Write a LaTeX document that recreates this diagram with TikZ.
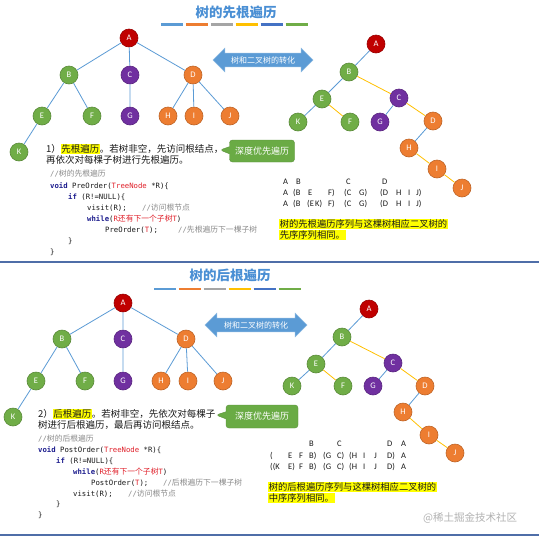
\documentclass[tikz,border=0pt]{standalone}
\usepackage{fontspec}
\setmainfont{Noto Sans CJK SC}
\setmonofont{DejaVu Sans Mono}
\newfontfamily\latf{Carlito}
\newfontfamily\cjk{Noto Sans CJK SC}
\usetikzlibrary{shapes.arrows,shapes.callouts}
\definecolor{tblue}{HTML}{4A8FD4}
\definecolor{barA}{HTML}{5B9BD5}
\definecolor{barB}{HTML}{ED7D31}
\definecolor{barC}{HTML}{A5A5A5}
\definecolor{barD}{HTML}{FFC000}
\definecolor{barE}{HTML}{4472C4}
\definecolor{barF}{HTML}{70AD47}
\definecolor{nred}{HTML}{C00000}
\definecolor{ngreen}{HTML}{70AD47}
\definecolor{npurple}{HTML}{7030A0}
\definecolor{norange}{HTML}{ED7D31}
\definecolor{eblue}{HTML}{5B9BD5}
\definecolor{eyel}{HTML}{FFC000}
\definecolor{sepc}{HTML}{4F6EA8}
\definecolor{gbox}{HTML}{6AAB45}
\definecolor{kwc}{HTML}{1F1F8F}
\definecolor{cred}{HTML}{E0202A}
\definecolor{cmt}{HTML}{8A8A8A}
\definecolor{txt}{HTML}{1A1A1A}
\definecolor{hl}{HTML}{FFFF00}
\setlength\fboxsep{0.4pt}
\newcommand\hlt[1]{\colorbox{hl}{#1}}
\newcommand\kw[1]{\textcolor{kwc}{\textbf{#1}}}
\newcommand\zh[1]{{\cjk\fontsize{7.8}{8}\selectfont #1}}
\tikzset{
  tn/.style={circle, minimum size=18pt, inner sep=0pt, text=white, font=\latf\fontsize{8.5}{9}\selectfont, line width=0.6pt},
  nR/.style={tn, fill=nred, draw=nred!80!black},
  nG/.style={tn, fill=ngreen, draw=ngreen!80!black},
  nP/.style={tn, fill=npurple, draw=npurple!80!black},
  nO/.style={tn, fill=norange, draw=norange!80!black},
  be/.style={draw=eblue, line width=0.8pt},
  ye/.style={draw=eyel, line width=0.8pt},
  ttl/.style={text=tblue, font=\bfseries\fontsize{13.5}{15}\selectfont, inner sep=0pt},
  barline/.style={line width=2.6pt},
  desc/.style={anchor=west, inner sep=0pt, text=txt, font=\fontsize{9.5}{11}\selectfont},
  codeline/.style={anchor=west, inner sep=0pt, text=txt, font=\ttfamily\fontsize{7.3}{8}\selectfont},
  cmnt/.style={codeline, text=cmt},
  seqtok/.style={anchor=west, inner sep=0pt, text=txt, font=\latf\fontsize{8.5}{9}\selectfont},
  hlline/.style={anchor=west, inner sep=0.6pt, fill=hl, text=txt, font=\fontsize{9.3}{10}\selectfont},
  darr/.style={double arrow, fill=eblue, draw=eblue!70!white, double arrow head extend=5pt, inner xsep=0pt, inner ysep=3pt, text=white, font=\fontsize{8}{9}\selectfont},
  gcall/.style={rectangle callout, fill=gbox, draw=gbox!85!black, rounded corners=3pt, text=white, font=\fontsize{9}{10}\selectfont, inner sep=0pt},
  sepline/.style={draw=sepc, line width=1.2pt}
}
\begin{document}
\begin{tikzpicture}[x=1pt,y=-1pt]
\fill[white] (0,0) rectangle (539,539);
\useasboundingbox (0,0) rectangle (539,539);

% ================= TOP =================
\node[ttl] (t1) at (236,12) {树的先根遍历};
\foreach \c [count=\i from 0] in {barA,barB,barC,barD,barE,barF}
  \draw[barline,\c] (161+\i*24.9,24.5) -- ++(22,0);

% left tree
\node[nR] (tA) at (129,38) {A};
\node[nG] (tB) at (69,75) {B};
\node[nP] (tC) at (130,75) {C};
\node[nO] (tD) at (193,75) {D};
\node[nG] (tE) at (42,116) {E};
\node[nG] (tF) at (92,116) {F};
\node[nP] (tG) at (130,116) {G};
\node[nO] (tH) at (168,116) {H};
\node[nO] (tI) at (194,116) {I};
\node[nO] (tJ) at (230,116) {J};
\node[nG] (tK) at (19,152) {K};
\draw[be] (tA)--(tB) (tA)--(tC) (tA)--(tD) (tB)--(tE) (tB)--(tF) (tC)--(tG)
  (tD)--(tH) (tD)--(tI) (tD)--(tJ) (tE)--(tK);

% arrow
\node[darr, minimum height=100pt] (ar1) at (263,60) {树和二叉树的转化};

% right tree
\node[nR] (uA) at (376,44) {A};
\node[nG] (uB) at (349,72) {B};
\node[nG] (uE) at (322,99) {E};
\node[nP] (uC) at (399,98) {C};
\node[nG] (uK) at (298,122) {K};
\node[nG] (uF) at (350,122) {F};
\node[nP] (uG) at (380,122) {G};
\node[nO] (uD) at (433,121) {D};
\node[nO] (uH) at (409,148) {H};
\node[nO] (uI) at (437,169) {I};
\node[nO] (uJ) at (462,188) {J};
\draw[be] (uA)--(uB) (uB)--(uE) (uE)--(uK) (uC)--(uG) (uD)--(uH);
\draw[ye] (uB)--(uC) (uE)--(uF) (uC)--(uD) (uH)--(uI) (uI)--(uJ);

% description
\node[desc] (d1) at (46,149) {1）\hlt{先根遍历}。若树非空，先访问根结点，};
\node[desc] (d2) at (46,160) {再依次对每棵子树进行先根遍历。};
\node[gcall, minimum width=65pt, minimum height=22pt, callout absolute pointer={(220,150)}] (g1) at (262,151) {深度优先遍历};

% code
\node[cmnt] (c1) at (50,174) {//\zh{树的先根遍历}};
\node[codeline] (c2) at (50,186) {\kw{void} PreOrder(\textcolor{cred}{TreeNode} *R)\{};
\node[codeline] (c3) at (68,197) {\kw{if} (R!=NULL)\{};
\node[codeline] (c4) at (87,208) {visit(R);};
\node[cmnt] (c4c) at (142,208) {//\zh{访问根节点}};
\node[codeline] (c5) at (87,219) {\kw{while}(\textcolor{cred}{R\zh{还有下一个子树}T})};
\node[codeline] (c6) at (105,230) {PreOrder(\textcolor{cred}{T});};
\node[cmnt] (c6c) at (178,230) {//\zh{先根遍历下一棵子树}};
\node[codeline] (c7) at (68,241) {\}};
\node[codeline] (c8) at (50,252) {\}};

% sequences
\node[seqtok] (s11) at (283,182) {A};
\node[seqtok] (s12) at (296,182) {B};
\node[seqtok] (s13) at (346,182) {C};
\node[seqtok] (s14) at (382,182) {D};
\foreach \x/\t [count=\i] in {283/A,293/(B,308/E,328/F),344/(C,359/G),380/(D,396/H,408/I,416/J)}
  \node[seqtok] (s2\i) at (\x,193) {\t};
\foreach \x/\t [count=\i] in {283/A,293/(B,307/(E,315/K),328/F),344/(C,359/G),380/(D,396/H,408/I,416/J)}
  \node[seqtok] (s3\i) at (\x,204) {\t};
\node[hlline] (h1) at (279,224) {树的先根遍历序列与这棵树相应二叉树的};
\node[hlline] (h2) at (279,235) {先序序列相同。};

% separator
\draw[sepline] (0,262) -- (539,262);

% ================= BOTTOM =================
\node[ttl] (t2) at (230,275) {树的后根遍历};
\foreach \c [count=\i from 0] in {barA,barB,barC,barD,barE,barF}
  \draw[barline,\c] (154+\i*24.9,289) -- ++(22,0);

\node[nR] (bA) at (123,303) {A};
\node[nG] (bB) at (62,339) {B};
\node[nP] (bC) at (123,339) {C};
\node[nO] (bD) at (186,339) {D};
\node[nG] (bE) at (36,381) {E};
\node[nG] (bF) at (85,381) {F};
\node[nP] (bG) at (123,381) {G};
\node[nO] (bH) at (161,381) {H};
\node[nO] (bI) at (188,381) {I};
\node[nO] (bJ) at (223,381) {J};
\node[nG] (bK) at (13,417) {K};
\draw[be] (bA)--(bB) (bA)--(bC) (bA)--(bD) (bB)--(bE) (bB)--(bF) (bC)--(bG)
  (bD)--(bH) (bD)--(bI) (bD)--(bJ) (bE)--(bK);

\node[darr, minimum height=102pt] (ar2) at (256,325) {树和二叉树的转化};

\node[nR] (vA) at (369,309) {A};
\node[nG] (vB) at (342,337) {B};
\node[nG] (vE) at (316,364) {E};
\node[nP] (vC) at (393,363) {C};
\node[nG] (vK) at (292,386) {K};
\node[nG] (vF) at (343,386) {F};
\node[nP] (vG) at (373,386) {G};
\node[nO] (vD) at (425,386) {D};
\node[nO] (vH) at (403,412) {H};
\node[nO] (vI) at (429,435) {I};
\node[nO] (vJ) at (455,453) {J};
\draw[be] (vA)--(vB) (vB)--(vE) (vE)--(vK) (vC)--(vG) (vD)--(vH);
\draw[ye] (vB)--(vC) (vE)--(vF) (vC)--(vD) (vH)--(vI) (vI)--(vJ);

\node[desc] (e1) at (38,414) {2）\hlt{后根遍历}。若树非空，先依次对每棵子};
\node[desc] (e2) at (38,425) {树进行后根遍历，最后再访问根结点。};
\node[gcall, minimum width=72pt, minimum height=23pt, callout absolute pointer={(216,415)}] (g2) at (262,416.5) {深度优先遍历};

\node[cmnt] (k1) at (38,439) {//\zh{树的后根遍历}};
\node[codeline] (k2) at (38,450) {\kw{void} PostOrder(\textcolor{cred}{TreeNode} *R)\{};
\node[codeline] (k3) at (56,461) {\kw{if} (R!=NULL)\{};
\node[codeline] (k4) at (73,472) {\kw{while}(\textcolor{cred}{R\zh{还有下一个子树}T})};
\node[codeline] (k5) at (91,483) {PostOrder(\textcolor{cred}{T});};
\node[cmnt] (k5c) at (163,483) {//\zh{后根遍历下一棵子树}};
\node[codeline] (k6) at (73,494) {visit(R);};
\node[cmnt] (k6c) at (128,494) {//\zh{访问根节点}};
\node[codeline] (k7) at (56,504) {\}};
\node[codeline] (k8) at (38,515) {\}};

\node[seqtok] (r11) at (309,444) {B};
\node[seqtok] (r12) at (337,444) {C};
\node[seqtok] (r13) at (387,444) {D};
\node[seqtok] (r14) at (401,444) {A};
\foreach \x/\t [count=\i] in {270/(,288/E,299/F,309/B),323/(G,337/C),349/(H,363/I,374/J,387/D),401/A}
  \node[seqtok] (r2\i) at (\x,456) {\t};
\foreach \x/\t [count=\i] in {270/((K,288/E),299/F,309/B),323/(G,337/C),349/(H,363/I,374/J,387/D),401/A}
  \node[seqtok] (r3\i) at (\x,467) {\t};
\node[hlline] (h3) at (268,487) {树的后根遍历序列与这棵树相应二叉树的};
\node[hlline] (h4) at (268,498) {中序序列相同。};

\node[anchor=west, inner sep=0pt, text=black!30, font=\fontsize{10.5}{12}\selectfont] (wm) at (423,518) {@稀土掘金技术社区};

\draw[sepline] (0,535) -- (539,535);
\end{tikzpicture}
\end{document}
